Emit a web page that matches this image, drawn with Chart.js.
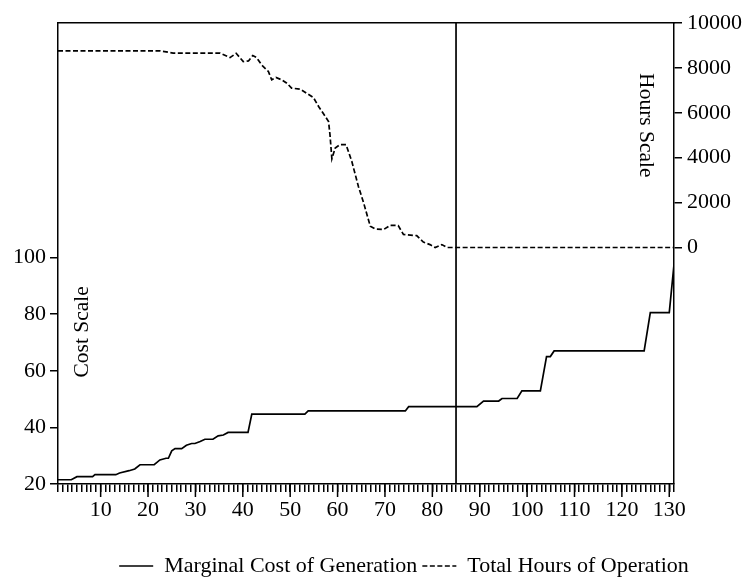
<!DOCTYPE html>
<html>
<head>
  <title>Marginal Cost and Hours of Operation</title>
  <script src="https://cdn.jsdelivr.net/npm/chart.js@4"></script>
  <style>
    body { margin: 0; background: #fff; }
  </style>
</head>
<body>
  <canvas id="chart" width="748" height="577"></canvas>

  <script>
    // generating units ranked by cost (x), with marginal cost and yearly hours
    const costUnits = [1, 3.8, 5, 8.3, 8.8, 13.2, 14, 16, 17.2, 18.3, 21.3, 22.5, 23.8, 24.3, 25, 25.7, 27.1, 28.1, 29.2, 29.9, 31, 32, 33.7, 34.8, 35.9, 36.9, 41.1, 41.9, 53.1, 53.8, 74.3, 75, 89.4, 90.8, 94, 94.7, 97.9, 98.9, 102.8, 104.1, 104.9, 105.7, 124.7, 126, 130, 131];
    const costValues = [21.5, 21.5, 22.6, 22.6, 23.3, 23.3, 23.9, 24.7, 25.3, 26.8, 26.8, 28.5, 29.1, 29.1, 31.7, 32.5, 32.5, 33.7, 34.3, 34.3, 35.0, 35.8, 35.8, 37.0, 37.3, 38.2, 38.2, 44.7, 44.7, 45.8, 45.8, 47.3, 47.3, 49.3, 49.3, 50.2, 50.2, 52.9, 52.9, 65.0, 65.0, 67.0, 67.0, 80.5, 80.5, 97.5];

    const hourUnits = [1, 22.5, 25.3, 35.2, 37.3, 38.6, 40.1, 41.2, 42.1, 42.9, 44, 45.4, 46.1, 47, 48.2, 49.3, 50.3, 52.1, 53.5, 54.9, 56, 57.4, 58.1, 58.4, 58.8, 59.5, 60.5, 61.8, 63, 64.4, 65.5, 66.9, 67.9, 69.7, 71.1, 72.8, 73.9, 76.7, 78.1, 79.5, 80.6, 82, 83.1, 131];
    const hourValues = [8760, 8760, 8660, 8660, 8460, 8650, 8280, 8310, 8550, 8460, 8130, 7840, 7470, 7570, 7470, 7320, 7100, 7050, 6870, 6680, 6280, 5840, 5610, 5020, 3950, 4430, 4580, 4580, 3840, 2720, 1990, 950, 830, 800, 990, 980, 580, 530, 240, 130, 0, 130, 0, 0];

    const cutoffUnit = 85;
    const costTicks = [20, 40, 60, 80, 100];
    const hourTicks = [0, 2000, 4000, 6000, 8000, 10000];
    const unitLabels = [10, 20, 30, 40, 50, 60, 70, 80, 90, 100, 110, 120, 130];

    const costMin = 20, costMax = 182.8;
    const hourMin = -10533, hourMax = 10000;
    const unitMin = 1, unitMax = 131;

    const serif = "'Liberation Serif', 'Times New Roman', serif";
    Chart.defaults.font.family = serif;
    Chart.defaults.font.size = 22;
    Chart.defaults.color = '#000';

    const toPoints = (xs, ys) => xs.map((x, i) => ({ x: x, y: ys[i] }));

    // longer tick marks at the labelled units, plus the two scale names
    const extras = {
      id: 'extras',
      afterDraw(chart) {
        const { ctx, chartArea, scales } = chart;
        ctx.save();
        ctx.strokeStyle = '#000';
        ctx.lineWidth = 1.5;
        unitLabels.forEach(v => {
          const px = scales.x.getPixelForValue(v);
          ctx.beginPath();
          ctx.moveTo(px, chartArea.bottom);
          ctx.lineTo(px, chartArea.bottom + 13);
          ctx.stroke();
        });

        ctx.fillStyle = '#000';
        ctx.font = '21.5px ' + serif;
        ctx.textAlign = 'center';
        ctx.textBaseline = 'middle';
        const h = chartArea.bottom - chartArea.top;

        ctx.save();
        ctx.translate(chartArea.left + 24, chartArea.top + h * 0.67);
        ctx.rotate(-Math.PI / 2);
        ctx.fillText('Cost Scale', 0, 0);
        ctx.restore();

        ctx.save();
        ctx.translate(chartArea.right - 28, chartArea.top + h * 0.222);
        ctx.rotate(Math.PI / 2);
        ctx.fillText('Hours Scale', 0, 0);
        ctx.restore();

        ctx.restore();
      }
    };

    const ctx = document.getElementById('chart').getContext('2d');

    const chart = new Chart(ctx, {
      type: 'line',
      data: {
        datasets: [{
          label: 'Marginal Cost of Generation',
          data: toPoints(costUnits, costValues),
          yAxisID: 'yCost',
          borderColor: '#000',
          backgroundColor: '#000',
          borderWidth: 1.7,
          pointRadius: 0,
          tension: 0,
          fill: false
        }, {
          label: 'Total Hours of Operation',
          data: toPoints(hourUnits, hourValues),
          yAxisID: 'yHours',
          borderColor: '#000',
          backgroundColor: '#000',
          borderWidth: 1.7,
          borderDash: [5, 2.5],
          pointRadius: 0,
          tension: 0,
          fill: false
        }, {
          label: 'cutoff',
          data: [{ x: cutoffUnit, y: costMin }, { x: cutoffUnit, y: costMax }],
          yAxisID: 'yCost',
          borderColor: '#000',
          borderWidth: 1.7,
          pointRadius: 0,
          fill: false
        }]
      },
      options: {
        responsive: false,
        animation: false,
        // legend sits right of centre in the original, hence the negative right padding
        layout: { padding: { top: 0, right: -60, bottom: -10, left: 0 } },
        plugins: {
          tooltip: { enabled: false },
          legend: {
            position: 'bottom',
            labels: {
              usePointStyle: true,
              pointStyle: 'line',
              pointStyleWidth: 34,
              padding: 5,
              color: '#000',
              font: { size: 22, family: serif },
              generateLabels: chart => Chart.defaults.plugins.legend.labels.generateLabels(chart).map(item => {
                const ds = chart.data.datasets[item.datasetIndex];
                item.lineDash = ds.borderDash || [];
                item.lineWidth = ds.borderWidth;
                return item;
              }),
              filter: item => item.text !== 'cutoff'
            }
          }
        },
        scales: {
          x: {
            type: 'linear',
            position: 'bottom',
            min: unitMin,
            max: unitMax,
            ticks: {
              stepSize: 1,
              autoSkip: false,
              maxRotation: 0,
              padding: 5,
              callback: v => (v % 10 === 0 ? String(v) : '')
            },
            grid: { drawOnChartArea: false, tickLength: 8, color: '#000', lineWidth: 1.5 },
            border: { display: true, color: '#000', width: 1.5 },
            afterFit: s => { s.height = 66; }
          },
          xTop: {
            type: 'linear',
            position: 'top',
            min: unitMin,
            max: unitMax,
            ticks: { display: false },
            grid: { display: false },
            border: { display: true, color: '#000', width: 1.5 },
            afterFit: s => { s.height = 23; }
          },
          yCost: {
            type: 'linear',
            position: 'left',
            min: costMin,
            max: costMax,
            afterBuildTicks: s => { s.ticks = costTicks.map(v => ({ value: v })); },
            ticks: { padding: 4, callback: v => String(v) },
            grid: { drawOnChartArea: false, tickLength: 8, color: '#000', lineWidth: 1.5 },
            border: { display: true, color: '#000', width: 1.5 },
            afterFit: s => { s.width = 58; }
          },
          yHours: {
            type: 'linear',
            position: 'right',
            min: hourMin,
            max: hourMax,
            afterBuildTicks: s => { s.ticks = hourTicks.map(v => ({ value: v })); },
            ticks: { padding: 5, callback: v => String(v) },
            grid: { drawOnChartArea: false, tickLength: 8, color: '#000', lineWidth: 1.5 },
            border: { display: true, color: '#000', width: 1.5 },
            afterFit: s => { s.width = 134; }
          }
        }
      },
      plugins: [extras]
    });
  </script>
</body>
</html>
